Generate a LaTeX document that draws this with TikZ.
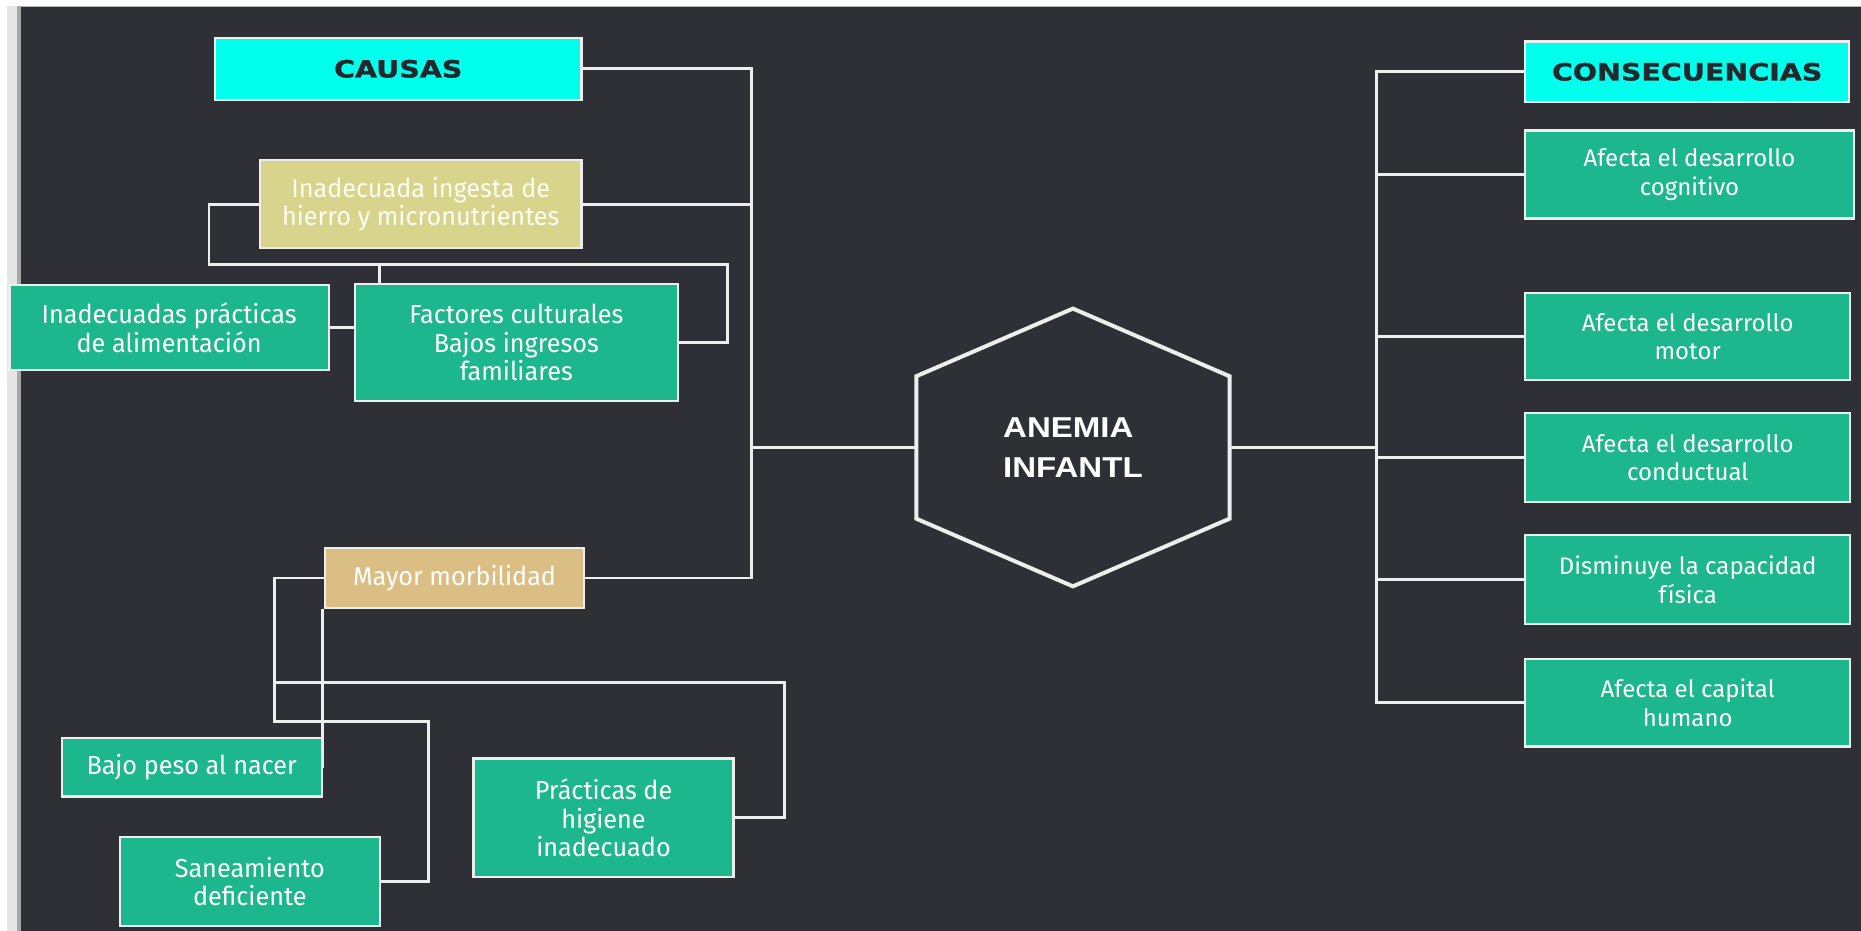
\documentclass[tikz,border=0pt]{standalone}
\usepackage{fontspec}
\newfontfamily\bodyfont{Fira Sans}
\newfontfamily\leftfont[FakeStretch=0.97]{Fira Sans}
\newfontfamily\headfont[FakeStretch=1.2,FakeBold=1.2]{DejaVu Sans}
\newfontfamily\hexfont[FakeStretch=1.15]{Liberation Sans}
\newcommand{\pxu}{0.4748pt}
\definecolor{bgdark}{HTML}{2F3036}
\definecolor{cyanbox}{HTML}{00FFEC}
\definecolor{greenbox}{HTML}{1DB78D}
\definecolor{khakibox}{HTML}{D8D48C}
\definecolor{tanbox}{HTML}{DBBE84}
\definecolor{headtext}{HTML}{26272C}
\definecolor{linecol}{HTML}{EEEEEE}
\definecolor{edgegray}{HTML}{E6E6E6}
\tikzset{
  boxbase/.style={draw=linecol, line width=0.9pt, inner sep=0pt, align=center,
    text=white, font={\bodyfont\fontsize{9.6}{11.4}\selectfont}},
  gbox/.style={boxbase, fill=greenbox},
  lbox/.style={gbox, font={\leftfont\fontsize{10.4}{11.4}\selectfont}},
  kbox/.style={boxbase, fill=khakibox, text={white!96!yellow}, font={\leftfont\fontsize{10.4}{11.4}\selectfont}},
  tbox/.style={boxbase, fill=tanbox, font={\leftfont\fontsize{10.4}{11.4}\selectfont}},
  hbox/.style={boxbase, fill=cyanbox, text=headtext, font={\headfont\bfseries\fontsize{9.5}{11}\selectfont}},
  conn/.style={draw=linecol, line width=1.1pt},
  hexline/.style={draw=linecol, line width=1.6pt, line join=miter},
}
\begin{document}
\begin{tikzpicture}[x=\pxu, y=-\pxu]
\useasboundingbox (0,0) rectangle (1568,784);
% background
\fill[bgdark] (0,0) rectangle (1568,784);
\fill[white] (0,0) rectangle (1568,5);
\fill[gray!60] (0,5) rectangle (1568,6);
\fill[white] (0,0) rectangle (6,784);
\fill[edgegray] (6,5) rectangle (14,784);
\fill[gray!70] (14,5) rectangle (18,784);

% left boxes
\node[hbox, minimum width=309*\pxu, minimum height=52*\pxu] (causas) at (335.5,58) {CAUSAS};
\node[kbox, minimum width=271*\pxu, minimum height=74*\pxu] (ingesta) at (354.5,172) {Inadecuada ingesta de\\hierro y micronutrientes};
\node[lbox, minimum width=269*\pxu, minimum height=72*\pxu] (practicas) at (142.5,276) {Inadecuadas prácticas\\de alimentación};
\node[lbox, minimum width=272*\pxu, minimum height=99*\pxu] (factores) at (435,288.5) {Factores culturales\\Bajos ingresos\\familiares};
\node[tbox, minimum width=218*\pxu, minimum height=50*\pxu] (mayor) at (383,487) {Mayor morbilidad};
\node[lbox, minimum width=219*\pxu, minimum height=49*\pxu] (bajo) at (161.5,646.5) {Bajo peso al nacer};
\node[lbox, minimum width=219*\pxu, minimum height=75*\pxu] (saneam) at (210.5,742.5) {Saneamiento\\deficiente};
\node[lbox, minimum width=219*\pxu, minimum height=100*\pxu] (higiene) at (508.5,689) {Prácticas de\\higiene\\inadecuado};

% hexagon
\coordinate (hxT) at (904,260);
\coordinate (hxUR) at (1036,317);
\coordinate (hxLR) at (1036,437);
\coordinate (hxB) at (904,494);
\coordinate (hxLL) at (772,437);
\coordinate (hxUL) at (772,317);
\coordinate (hxW) at (772,377);
\coordinate (hxE) at (1036,377);
\draw[hexline] (hxT) -- (hxUR) -- (hxLR) -- (hxB) -- (hxLL) -- (hxUL) -- cycle;
\node[align=left, text=white, font={\hexfont\bfseries\fontsize{11.5}{16}\selectfont}] (hex) at (904,377) {ANEMIA\\INFANTL};

% right boxes
\node[hbox, minimum width=273*\pxu, minimum height=51*\pxu] (consec) at (1421.5,60.5) {CONSECUENCIAS};
\node[gbox, minimum width=277*\pxu, minimum height=74*\pxu] (cogn) at (1423.5,147) {Afecta el desarrollo\\cognitivo};
\node[gbox, minimum width=274*\pxu, minimum height=73*\pxu] (motor) at (1422,283.5) {Afecta el desarrollo\\motor};
\node[gbox, minimum width=274*\pxu, minimum height=75*\pxu] (conduct) at (1422,385.5) {Afecta el desarrollo\\conductual};
\node[gbox, minimum width=274*\pxu, minimum height=75*\pxu] (fisica) at (1422,488.5) {Disminuye la capacidad\\física};
\node[gbox, minimum width=274*\pxu, minimum height=74*\pxu] (humano) at (1422,592) {Afecta el capital\\humano};

% left trunk
\coordinate (t1) at (633,58);
\coordinate (t2) at (633,487);
\coordinate (t3) at (633,377);
\draw[conn] (causas.east) -- (t1) -- (t2) -- (mayor.east);
\draw[conn] (ingesta.east) -- (ingesta.east -| t1);
\draw[conn] (t3) -- (hxW);

% ingesta cluster
\coordinate (a1) at (176,223);
\coordinate (a2) at (613,223);
\coordinate (a3) at (320,223);
\draw[conn] (ingesta.west) -| (a1) -- (a2) |- (factores.east);
\draw[conn] (a3) -- (a3 |- factores.north);
\draw[conn] (practicas.east) -- (practicas.east -| factores.west);

% morbilidad cluster
\coordinate (b1) at (231,608);
\coordinate (b2) at (361,608);
\coordinate (b3) at (231,575);
\coordinate (b4) at (661,575);
\coordinate (b5) at (272,647);
\draw[conn] (mayor.west) -| (b1) -- (b2) |- (saneam.east);
\draw[conn] (b3) -- (b4) |- (higiene.east);
\draw[conn] (b5 |- mayor.south) -- (b5);

% right trunk
\coordinate (r1) at (1160,60.5);
\coordinate (r2) at (1160,592);
\draw[conn] (consec.west) -- (r1) -- (r2) -- (humano.west);
\draw[conn] (cogn.west) -- (cogn.west -| r1);
\draw[conn] (motor.west) -- (motor.west -| r1);
\draw[conn] (conduct.west) -- (conduct.west -| r1);
\draw[conn] (fisica.west) -- (fisica.west -| r1);
\draw[conn] (hxE) -- (hxE -| r1);
\end{tikzpicture}
\end{document}
